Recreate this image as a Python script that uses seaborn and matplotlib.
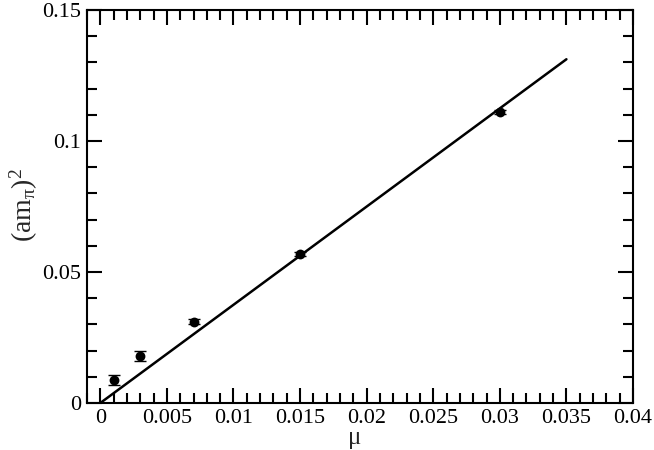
import numpy as np
import pandas as pd
import seaborn as sns
import matplotlib.pyplot as plt
from matplotlib.ticker import MultipleLocator

# data
mu = [0.001, 0.003, 0.007, 0.015, 0.030]
mpi2 = [0.0088, 0.0180, 0.0310, 0.0570, 0.1112]
mpi2_err = [0.0019, 0.0019, 0.0010, 0.0008, 0.0008]

# linear fit line
fit_x = [0.0, 0.035]
fit_y = [0.0, 0.1312]

df = pd.DataFrame({'mu': mu, 'mpi2': mpi2, 'err': mpi2_err})
df_fit = pd.DataFrame({'mu': fit_x, 'mpi2': fit_y})

sns.set_theme(style='white')
plt.rcParams['font.family'] = ['Liberation Serif', 'DejaVu Serif']
plt.rcParams['mathtext.fontset'] = 'custom'
plt.rcParams['mathtext.rm'] = 'Liberation Serif'
plt.rcParams['mathtext.it'] = 'Liberation Serif'

fig = plt.figure(figsize=(6.54, 4.5), dpi=100)
ax = fig.add_axes([87 / 654, 1 - 403 / 450, 546 / 654, 393 / 450])

sns.lineplot(data=df_fit, x='mu', y='mpi2', color='black', linewidth=1.8, ax=ax)
ax.errorbar(df.mu, df.mpi2, yerr=df.err, fmt='none', ecolor='black',
            elinewidth=1.0, capsize=4, capthick=1.0, zorder=3)
sns.scatterplot(data=df, x='mu', y='mpi2', color='black', s=50,
                edgecolor='black', linewidth=0, zorder=4, ax=ax)

ax.set_xlim(-0.001, 0.04)
ax.set_ylim(0, 0.15)

ax.xaxis.set_minor_locator(MultipleLocator(0.001))
ax.yaxis.set_minor_locator(MultipleLocator(0.01))
ax.set_xticks([0, 0.005, 0.01, 0.015, 0.02, 0.025, 0.03, 0.035, 0.04])
ax.set_xticklabels(['0', '0.005', '0.01', '0.015', '0.02', '0.025', '0.03', '0.035', '0.04'])
ax.set_yticks([0, 0.05, 0.1, 0.15])
ax.set_yticklabels(['0', '0.05', '0.1', '0.15'])

ax.tick_params(which='both', direction='in', top=True, right=True,
               bottom=True, left=True,
               color='black', width=1.5, labelsize=16, labelcolor='black')
ax.tick_params(which='major', length=11, pad=4)
ax.tick_params(which='minor', length=7)

for s in ax.spines.values():
    s.set_color('black')
    s.set_linewidth(1.5)

ax.set_xlabel('μ', fontsize=18)
ax.xaxis.label.set_va('center')
ax.xaxis.set_label_coords((355 - 87) / 546, (403 - 438) / 393)

ax.set_ylabel(r'(am$_{\mathrm{π}}$)$^{2}$', fontsize=20)
ax.yaxis.label.set_va('center')
ax.yaxis.set_label_coords((24 - 87) / 546, (403 - 205) / 393)

fig.savefig('out.png', dpi=100)
